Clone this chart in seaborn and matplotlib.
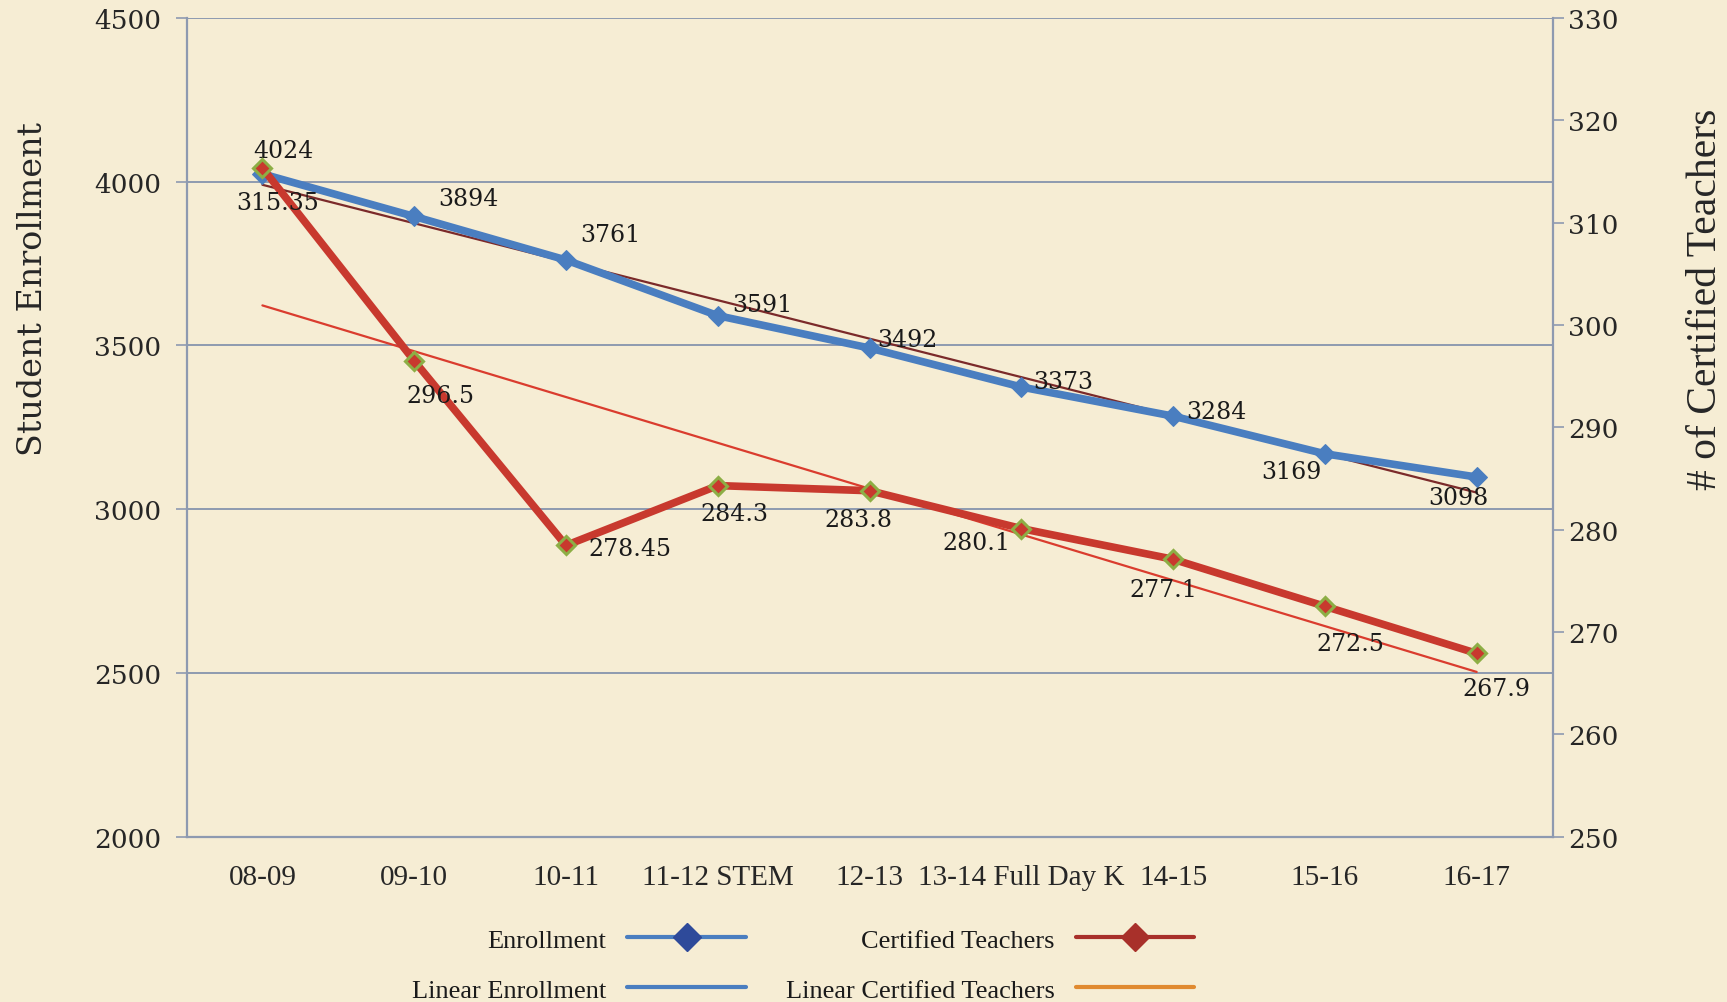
import matplotlib
matplotlib.use('Agg')

import numpy as np
import pandas as pd
import matplotlib.pyplot as plt
import seaborn as sns
from matplotlib.lines import Line2D

# -------------------------------
# DATA
# -------------------------------

years = ["08-09", "09-10", "10-11", "11-12 STEM", "12-13",
         "13-14 Full Day K", "14-15", "15-16", "16-17"]

enrollment = [4024, 3894, 3761, 3591, 3492, 3373, 3284, 3169, 3098]

teachers = [315.35, 296.5, 278.45, 284.3, 283.8, 280.1, 277.1, 272.5, 267.9]

enroll_labels = ["4024", "3894", "3761", "3591", "3492", "3373", "3284", "3169", "3098"]
teacher_labels = ["315.35", "296.5", "278.45", "284.3", "283.8", "280.1", "277.1", "272.5", "267.9"]

# label offsets (points)
enroll_off = [(15, 17), (39, 13), (32, 18), (32, 8), (27, 6), (30, 4), (31, 3), (-24, -13), (-13, -15)]
teacher_off = [(11, -25), (19, -25), (46, -2), (12, -20), (-8, -21), (-32, -10), (-7, -22), (18, -27), (14, -25)]

df = pd.DataFrame({
    "Year": years,
    "x": np.arange(len(years)),
    "Enrollment": enrollment,
    "Teachers": teachers,
})

# linear trends
p_e = np.polyfit(df["x"], df["Enrollment"], 1)
p_t = np.polyfit(df["x"], df["Teachers"], 1)
df["Enroll_Trend"] = np.polyval(p_e, df["x"])
df["Teacher_Trend"] = np.polyval(p_t, df["x"])

# -------------------------------
# STYLE
# -------------------------------

bg = "#F6EDD4"
grid_c = "#8E9AB0"
blue = "#4A7EC0"
red = "#C8392E"

sns.set_theme(style="white")
plt.rcParams['font.family'] = ['DejaVu Serif']
plt.rcParams['text.color'] = '#1a1a1a'

fig = plt.figure(figsize=(17.27, 10.03), dpi=100, facecolor=bg)
ax = fig.add_axes([0.108, 0.165, 0.791, 0.816])
ax.set_facecolor(bg)
ax2 = ax.twinx()

# -------------------------------
# LEFT AXIS: ENROLLMENT
# -------------------------------

sns.lineplot(data=df, x="x", y="Enroll_Trend", ax=ax, color="#7B2A2A", linewidth=1.6)
sns.lineplot(data=df, x="x", y="Enrollment", ax=ax, color=blue, linewidth=5.5,
             marker="D", markersize=10, markeredgecolor=blue, markerfacecolor=blue)

ax.set_ylim(2000, 4500)
ax.set_yticks([2000, 2500, 3000, 3500, 4000, 4500])
ax.set_xlim(-0.5, len(years) - 0.5)
ax.yaxis.grid(True, color=grid_c, linewidth=1.4)
ax.set_axisbelow(True)

ax.set_xticks(df["x"])
ax.set_xticklabels(years, family="Liberation Serif", fontsize=21)
ax.set_xticks(np.arange(0.5, len(years) - 0.5, 1), minor=True)
ax.tick_params(axis="x", which="major", length=0, pad=20)
ax.tick_params(axis="x", which="minor", length=8, color=grid_c, width=1.2, direction="out")
ax.tick_params(axis="y", length=8, color=grid_c, width=1.2, labelsize=19, direction="out", pad=10)
ax.set_xlabel("")
ax.set_ylabel("Student Enrollment", fontsize=24)
ax.yaxis.set_label_coords(-0.101, 0.67)

for s in ["top", "right"]:
    ax.spines[s].set_visible(False)
for s in ["left", "bottom"]:
    ax.spines[s].set_color(grid_c)
    ax.spines[s].set_linewidth(1.6)

for i in range(len(years)):
    ax.annotate(enroll_labels[i], (df["x"][i], df["Enrollment"][i]),
                xytext=enroll_off[i], textcoords="offset points",
                ha="center", va="center", fontsize=17)

# -------------------------------
# RIGHT AXIS: CERTIFIED TEACHERS
# -------------------------------

sns.lineplot(data=df, x="x", y="Teacher_Trend", ax=ax2, color="#DA3C2E", linewidth=1.6)
sns.lineplot(data=df, x="x", y="Teachers", ax=ax2, color=red, linewidth=5.5,
             marker="D", markersize=9, markeredgecolor="#8DAE45",
             markerfacecolor=red, markeredgewidth=2.2)

ax2.set_ylim(250, 330)
ax2.set_yticks(range(250, 331, 10))
ax2.tick_params(axis="y", length=8, color=grid_c, width=1.2, labelsize=19, direction="out", pad=3)
ax2.set_ylabel("# of Certified Teachers", family="Liberation Serif", fontsize=30)
ax2.yaxis.set_label_coords(1.098, 0.657)
ax2.set_xlabel("")
for s in ["top", "left", "bottom"]:
    ax2.spines[s].set_visible(False)
ax2.spines["right"].set_color(grid_c)
ax2.spines["right"].set_linewidth(1.6)

for i in range(len(years)):
    ax2.annotate(teacher_labels[i], (df["x"][i], df["Teachers"][i]),
                 xytext=teacher_off[i], textcoords="offset points",
                 ha="center", va="center", fontsize=17)

# -------------------------------
# LEGEND
# -------------------------------

handles = [
    Line2D([], [], color=blue, linewidth=3, marker="D", markersize=14,
           markerfacecolor="#2E4A9A", markeredgecolor="#2E4A9A"),
    Line2D([], [], color=blue, linewidth=3),
    Line2D([], [], color="#A8302A", linewidth=3, marker="D", markersize=14,
           markerfacecolor="#A8302A", markeredgecolor="#A8302A"),
    Line2D([], [], color="#E08A30", linewidth=3),
]
names = ["Enrollment", "Linear Enrollment", "Certified Teachers", "Linear Certified Teachers"]

fig.legend(handles, names, loc="center", bbox_to_anchor=(0.465, 0.037), ncol=2,
           frameon=False, markerfirst=False, handlelength=4.5, columnspacing=1.5,
           labelspacing=1.0, prop={"family": "Liberation Serif", "size": 19})

plt.savefig("out.png", dpi=100, facecolor=bg)
